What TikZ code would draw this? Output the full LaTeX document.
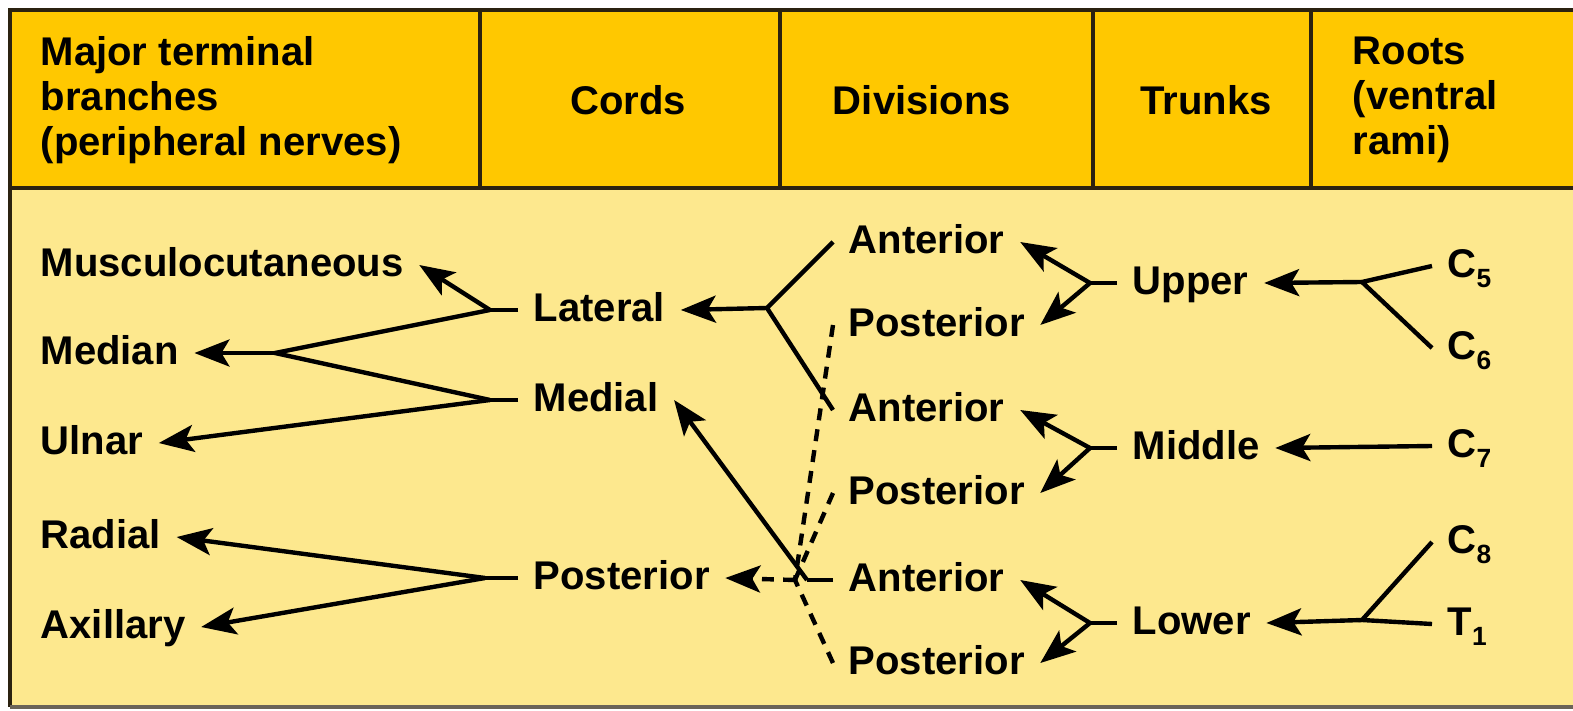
\documentclass[tikz,border=0pt]{standalone}
\usepackage{fontspec}
\setmainfont{Liberation Sans}
\usetikzlibrary{arrows.meta, positioning, calc}
\definecolor{plexusgold}{HTML}{FFC800}
\definecolor{plexuslightgold}{HTML}{FDE88E}
\definecolor{plexusframe}{HTML}{2B2210}
\newcommand{\rootsub}[1]{\raisebox{-3pt}{\fontsize{7.5pt}{7.5pt}\selectfont #1}}

\begin{document}
\begin{tikzpicture}[font=\fontsize{11.4pt}{12.8pt}\selectfont\bfseries,
                    nervelabel/.style={anchor=west, inner xsep=0.15cm, inner ysep=0pt, text height=0.3cm, text depth=0.08cm},
                    headlabel/.style={align=left, inner sep=0pt},
                    nerve/.style={line width=1.25pt},
                    nervetip/.style={-{Stealth[length=3.5mm, width=2.7mm, inset=0.8mm]}},
                    nervearrow/.style={nerve, nervetip},
                    postdash/.style={nerve, dash pattern=on 3.4pt off 2.6pt}]

    \useasboundingbox (0,0) rectangle (15.73,-7.10);

    % Table background
    \fill[white] (0,0) rectangle (15.73,-7.10);
    \fill[plexuslightgold] (0.10,-0.10) rectangle (15.73,-7.07);
    \fill[plexusgold] (0.10,-0.10) rectangle (15.73,-1.88);
    \draw[plexusframe, line width=1.4pt] (15.73,-0.10) -- (0.10,-0.10) -- (0.10,-7.07);
    \draw[plexusframe!70, line width=1pt] (0.10,-7.07) -- (15.73,-7.07);
    \draw[plexusframe, line width=1.4pt] (0.10,-1.88) -- (15.73,-1.88);
    \foreach \x in {4.80, 7.80, 10.93, 13.11}
        \draw[plexusframe, line width=1pt] (\x,-0.10) -- (\x,-1.88);

    % Header
    \node[headlabel, anchor=west] (hbranches) at (0.40,-1.00) {Major terminal\\branches\\(peripheral nerves)};
    \node[headlabel] (hcords) at (6.28,-1.00) {Cords};
    \node[headlabel] (hdivisions) at (9.22,-1.00) {Divisions};
    \node[headlabel] (htrunks) at (12.06,-1.00) {Trunks};
    \node[headlabel, anchor=west] (hroots) at (13.52,-1.00) {Roots\\(ventral\\rami)};

    % Roots
    \node[nervelabel] (c5) at (14.32,-2.66) {C\rootsub{5}};
    \node[nervelabel] (c6) at (14.32,-3.48) {C\rootsub{6}};
    \node[nervelabel] (c7) at (14.32,-4.46) {C\rootsub{7}};
    \node[nervelabel] (c8) at (14.32,-5.42) {C\rootsub{8}};
    \node[nervelabel] (t1) at (14.32,-6.24) {T\rootsub{1}};

    % Trunks
    \node[nervelabel] (upper) at (11.17,-2.83) {Upper};
    \node[nervelabel] (middle) at (11.17,-4.48) {Middle};
    \node[nervelabel] (lower) at (11.17,-6.23) {Lower};

    % Divisions
    \node[nervelabel] (ant1) at (8.33,-2.42) {Anterior};
    \node[nervelabel] (post1) at (8.33,-3.25) {Posterior};
    \node[nervelabel] (ant2) at (8.33,-4.10) {Anterior};
    \node[nervelabel] (post2) at (8.33,-4.93) {Posterior};
    \node[nervelabel] (ant3) at (8.33,-5.80) {Anterior};
    \node[nervelabel] (post3) at (8.33,-6.63) {Posterior};

    % Cords
    \node[nervelabel] (lateral) at (5.18,-3.10) {Lateral};
    \node[nervelabel] (medial) at (5.18,-4.00) {Medial};
    \node[nervelabel] (postcord) at (5.18,-5.78) {Posterior};

    % Terminal branches
    \node[nervelabel] (musc) at (0.25,-2.65) {Musculocutaneous};
    \node[nervelabel] (median) at (0.25,-3.53) {Median};
    \node[nervelabel] (ulnar) at (0.25,-4.43) {Ulnar};
    \node[nervelabel] (radial) at (0.25,-5.37) {Radial};
    \node[nervelabel] (axillary) at (0.25,-6.27) {Axillary};

    % Junctions
    \coordinate (jupper) at (13.62,-2.82);
    \coordinate (jlower) at (13.62,-6.20);
    \coordinate (jupperdiv) at ($(upper.west)+(-0.27,0)$);
    \coordinate (jmiddlediv) at ($(middle.west)+(-0.27,0)$);
    \coordinate (jlowerdiv) at ($(lower.west)+(-0.27,0)$);
    \coordinate (jlateral) at (7.67,-3.08);
    \coordinate (jmedial) at ($(ant3.west)+(-0.26,0)$);
    \coordinate (jposterior) at ($(ant3.west)+(-0.38,0)$);
    \coordinate (jlatcord) at ($(lateral.west)+(-0.28,0)$);
    \coordinate (jmedcord) at ($(medial.west)+(-0.28,0)$);
    \coordinate (jpostcord) at ($(postcord.west)+(-0.33,0)$);
    \coordinate (jmedian) at (2.75,-3.53);

    % Roots to trunks
    \draw[nerve] (c5.west) -- (jupper) -- (c6.west);
    \draw[nervearrow] (jupper) -- (upper.east);
    \draw[nervearrow] (c7.west) -- (middle.east);
    \draw[nerve] (c8.west) -- (jlower) -- (t1.west);
    \draw[nervearrow] (jlower) -- (lower.east);

    % Trunks to divisions
    \draw[nerve] (upper.west) -- (jupperdiv);
    \draw[nervearrow] (jupperdiv) -- (ant1.east);
    \draw[nervearrow] (jupperdiv) -- (post1.east);
    \draw[nerve] (middle.west) -- (jmiddlediv);
    \draw[nervearrow] (jmiddlediv) -- (ant2.east);
    \draw[nervearrow] (jmiddlediv) -- (post2.east);
    \draw[nerve] (lower.west) -- (jlowerdiv);
    \draw[nervearrow] (jlowerdiv) -- (ant3.east);
    \draw[nervearrow] (jlowerdiv) -- (post3.east);

    % Divisions to cords
    \draw[postdash] (post1.west) -- (jposterior);
    \draw[postdash] (post2.west) -- (jposterior);
    \draw[postdash] (post3.west) -- (jposterior);
    \draw[postdash, nervetip] (jposterior) -- (postcord.east);
    \draw[nerve] (ant1.west) -- (jlateral) -- (ant2.west);
    \draw[nervearrow] (jlateral) -- (lateral.east);
    \draw[nerve] (ant3.west) -- (jmedial);
    \draw[nervearrow] (jmedial) -- (medial.east);

    % Cords to terminal branches
    \draw[nerve] (lateral.west) -- (jlatcord);
    \draw[nervearrow] (jlatcord) -- (musc.east);
    \draw[nerve] (jlatcord) -- (jmedian) -- (jmedcord);
    \draw[nervearrow] (jmedian) -- (median.east);
    \draw[nerve] (medial.west) -- (jmedcord);
    \draw[nervearrow] (jmedcord) -- (ulnar.east);
    \draw[nerve] (postcord.west) -- (jpostcord);
    \draw[nervearrow] (jpostcord) -- (radial.east);
    \draw[nervearrow] (jpostcord) -- (axillary.east);

\end{tikzpicture}
\end{document}
